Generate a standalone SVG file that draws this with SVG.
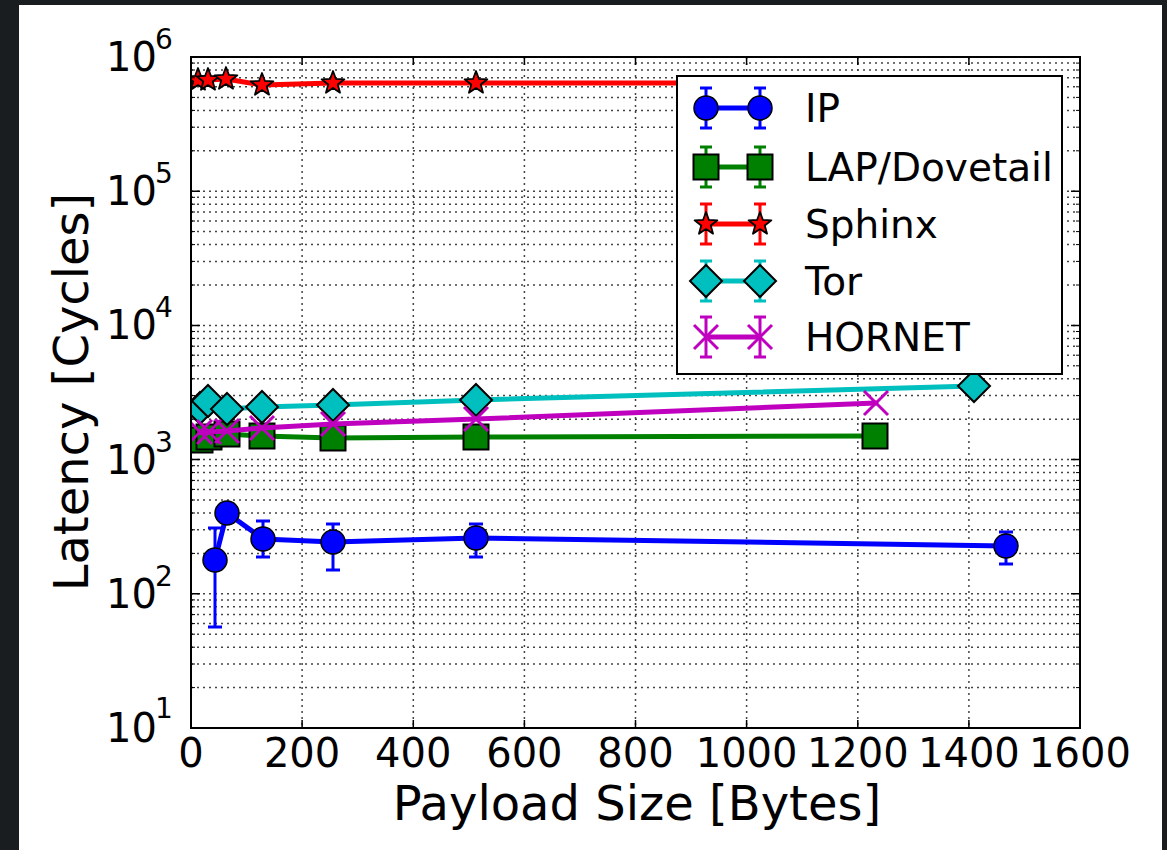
<svg xmlns="http://www.w3.org/2000/svg" xmlns:xlink="http://www.w3.org/1999/xlink" width="1167" height="850" viewBox="0 0 1167 850">
<style>
text{font-family:"DejaVu Sans","Liberation Sans",sans-serif;fill:#000}
.tick{font-size:40px}
.sup{font-size:28px}
.lbl{font-size:48px}
.leg{font-size:39px}
.grid line{stroke:#444;stroke-width:1.5;stroke-dasharray:2,4}
.ax line{stroke:#000;stroke-width:1.5}
.ser{fill:none;stroke-width:5;stroke-linejoin:round;stroke-linecap:round}
.eb{stroke-width:3;fill:none}
</style>
<defs>
<clipPath id="pc"><rect x="191" y="57" width="889" height="671"/></clipPath>
<circle id="mc" r="12" fill="#0000ff" stroke="#000" stroke-width="1.5"/>
<rect id="ms" x="-12.5" y="-12.5" width="25" height="25" fill="#008000" stroke="#000" stroke-width="2"/>
<path id="mst" d="M0,-12 L2.95,-4.06 L11.41,-3.71 L4.77,1.55 L7.05,9.71 L0,5.02 L-7.05,9.71 L-4.77,1.55 L-11.41,-3.71 L-2.95,-4.06 Z" fill="#ff0000" stroke="#000" stroke-width="1.8" stroke-linejoin="round"/>
<path id="md" d="M0,-16 L16,0 L0,16 L-16,0 Z" fill="#00bfbf" stroke="#000" stroke-width="2"/>
<path id="mx" d="M-12,-12 L12,12 M-12,12 L12,-12" stroke="#bf00bf" stroke-width="3" fill="none"/>
</defs>
<rect x="0" y="0" width="1167" height="850" fill="#1a1d20"/>
<rect x="19" y="5" width="1143" height="845" fill="#ffffff"/>

<g id="grid" class="grid">
<line x1="302.1" y1="57" x2="302.1" y2="728"/>
<line x1="413.3" y1="57" x2="413.3" y2="728"/>
<line x1="524.4" y1="57" x2="524.4" y2="728"/>
<line x1="635.5" y1="57" x2="635.5" y2="728"/>
<line x1="746.6" y1="57" x2="746.6" y2="728"/>
<line x1="857.8" y1="57" x2="857.8" y2="728"/>
<line x1="968.9" y1="57" x2="968.9" y2="728"/>
<line x1="191" y1="593.8" x2="1080" y2="593.8"/>
<line x1="191" y1="459.6" x2="1080" y2="459.6"/>
<line x1="191" y1="325.4" x2="1080" y2="325.4"/>
<line x1="191" y1="191.2" x2="1080" y2="191.2"/>
<line x1="191" y1="687.6" x2="1080" y2="687.6"/><line x1="191" y1="664" x2="1080" y2="664"/><line x1="191" y1="647.2" x2="1080" y2="647.2"/><line x1="191" y1="634.2" x2="1080" y2="634.2"/><line x1="191" y1="623.6" x2="1080" y2="623.6"/><line x1="191" y1="614.6" x2="1080" y2="614.6"/><line x1="191" y1="606.8" x2="1080" y2="606.8"/><line x1="191" y1="599.9" x2="1080" y2="599.9"/>
<line x1="191" y1="553.4" x2="1080" y2="553.4"/><line x1="191" y1="529.8" x2="1080" y2="529.8"/><line x1="191" y1="513" x2="1080" y2="513"/><line x1="191" y1="500" x2="1080" y2="500"/><line x1="191" y1="489.4" x2="1080" y2="489.4"/><line x1="191" y1="480.4" x2="1080" y2="480.4"/><line x1="191" y1="472.6" x2="1080" y2="472.6"/><line x1="191" y1="465.7" x2="1080" y2="465.7"/>
<line x1="191" y1="419.2" x2="1080" y2="419.2"/><line x1="191" y1="395.6" x2="1080" y2="395.6"/><line x1="191" y1="378.8" x2="1080" y2="378.8"/><line x1="191" y1="365.8" x2="1080" y2="365.8"/><line x1="191" y1="355.2" x2="1080" y2="355.2"/><line x1="191" y1="346.2" x2="1080" y2="346.2"/><line x1="191" y1="338.4" x2="1080" y2="338.4"/><line x1="191" y1="331.5" x2="1080" y2="331.5"/>
<line x1="191" y1="285" x2="1080" y2="285"/><line x1="191" y1="261.4" x2="1080" y2="261.4"/><line x1="191" y1="244.6" x2="1080" y2="244.6"/><line x1="191" y1="231.6" x2="1080" y2="231.6"/><line x1="191" y1="221" x2="1080" y2="221"/><line x1="191" y1="212" x2="1080" y2="212"/><line x1="191" y1="204.2" x2="1080" y2="204.2"/><line x1="191" y1="197.3" x2="1080" y2="197.3"/>
<line x1="191" y1="150.8" x2="1080" y2="150.8"/><line x1="191" y1="127.2" x2="1080" y2="127.2"/><line x1="191" y1="110.4" x2="1080" y2="110.4"/><line x1="191" y1="97.4" x2="1080" y2="97.4"/><line x1="191" y1="86.8" x2="1080" y2="86.8"/><line x1="191" y1="77.8" x2="1080" y2="77.8"/><line x1="191" y1="70" x2="1080" y2="70"/><line x1="191" y1="63.1" x2="1080" y2="63.1"/>
</g>

<g id="data" clip-path="url(#pc)">
<g id="series-ip">
<g class="eb" stroke="#0000ff">
<path d="M215,528 V627 M208,528 H222 M208,627 H222"/>
<path d="M263,521 V557 M256,521 H270 M256,557 H270"/>
<path d="M333,524 V570 M326,524 H340 M326,570 H340"/>
<path d="M476,524 V557 M469,524 H483 M469,557 H483"/>
<path d="M1006,532 V564 M999,532 H1013 M999,564 H1013"/>
</g>
<polyline class="ser" stroke="#0000ff" points="215,560 227,513 263,539 333,542 476,538 1006,546"/>
<use xlink:href="#mc" x="215" y="560"/><use xlink:href="#mc" x="227" y="513"/><use xlink:href="#mc" x="263" y="539"/><use xlink:href="#mc" x="333" y="542"/><use xlink:href="#mc" x="476" y="538"/><use xlink:href="#mc" x="1006" y="546"/>
</g>
<g id="series-lap">
<path class="eb" stroke="#008000" d="M200,430 V449 M194,449 H206"/>
<polyline class="ser" stroke="#008000" points="200,440 209,437 227,434 262,436 333,438 476,437 875,436"/>
<use xlink:href="#ms" x="200" y="440"/><use xlink:href="#ms" x="209" y="437"/><use xlink:href="#ms" x="227" y="434"/><use xlink:href="#ms" x="262" y="436"/><use xlink:href="#ms" x="333" y="438"/><use xlink:href="#ms" x="476" y="437"/><use xlink:href="#ms" x="875" y="436"/>
</g>
<g id="series-sphinx">
<polyline class="ser" stroke="#ff0000" stroke-width="6" points="198,80 208,80 226,79 262,85 333,83 476,83 860,83"/>
<use xlink:href="#mst" x="198" y="80"/><use xlink:href="#mst" x="208" y="80"/><use xlink:href="#mst" x="226" y="79"/><use xlink:href="#mst" x="262" y="85"/><use xlink:href="#mst" x="333" y="83"/><use xlink:href="#mst" x="476" y="83"/>
</g>
<g id="series-tor">
<polyline class="ser" stroke="#00bfbf" points="200,408 208,401 227,409 262,407 333,405 476,400 974,386"/>
<use xlink:href="#md" x="200" y="408"/><use xlink:href="#md" x="208" y="401"/><use xlink:href="#md" x="227" y="409"/><use xlink:href="#md" x="262" y="407"/><use xlink:href="#md" x="333" y="405"/><use xlink:href="#md" x="476" y="400"/><use xlink:href="#md" x="974" y="386"/>
</g>
<g id="series-hornet">
<polyline class="ser" stroke="#bf00bf" points="200,432 209,432 227,431 262,428 333,424 476,419 876,403"/>
<use xlink:href="#mx" x="200" y="432"/><use xlink:href="#mx" x="209" y="432"/><use xlink:href="#mx" x="227" y="431"/><use xlink:href="#mx" x="262" y="428"/><use xlink:href="#mx" x="333" y="424"/><use xlink:href="#mx" x="476" y="419"/><use xlink:href="#mx" x="876" y="403"/>
</g>
</g>

<g id="axes" class="ax">
<rect x="191" y="57" width="889" height="671" fill="none" stroke="#000" stroke-width="2"/>
<path stroke="#000" stroke-width="1.5" d="M302.1,728 v-8 M413.3,728 v-8 M524.4,728 v-8 M635.5,728 v-8 M746.6,728 v-8 M857.8,728 v-8 M968.9,728 v-8 M302.1,57 v8 M413.3,57 v8 M524.4,57 v8 M635.5,57 v8 M746.6,57 v8 M857.8,57 v8 M968.9,57 v8 M191,593.8 h9 M191,459.6 h9 M191,325.4 h9 M191,191.2 h9 M1080,593.8 h-9 M1080,459.6 h-9 M1080,325.4 h-9 M1080,191.2 h-9"/>
<path stroke="#000" stroke-width="1" d="M191,687.6h4M191,664h4M191,647.2h4M191,634.2h4M191,623.6h4M191,614.6h4M191,606.8h4M191,599.9h4M191,553.4h4M191,529.8h4M191,513h4M191,500h4M191,489.4h4M191,480.4h4M191,472.6h4M191,465.7h4M191,419.2h4M191,395.6h4M191,378.8h4M191,365.8h4M191,355.2h4M191,346.2h4M191,338.4h4M191,331.5h4M191,285h4M191,261.4h4M191,244.6h4M191,231.6h4M191,221h4M191,212h4M191,204.2h4M191,197.3h4M191,150.8h4M191,127.2h4M191,110.4h4M191,97.4h4M191,86.8h4M191,77.8h4M191,70h4M191,63.1h4 M1080,687.6h-4M1080,664h-4M1080,647.2h-4M1080,634.2h-4M1080,623.6h-4M1080,614.6h-4M1080,606.8h-4M1080,599.9h-4M1080,553.4h-4M1080,529.8h-4M1080,513h-4M1080,500h-4M1080,489.4h-4M1080,480.4h-4M1080,472.6h-4M1080,465.7h-4M1080,419.2h-4M1080,395.6h-4M1080,378.8h-4M1080,365.8h-4M1080,355.2h-4M1080,346.2h-4M1080,338.4h-4M1080,331.5h-4M1080,285h-4M1080,261.4h-4M1080,244.6h-4M1080,231.6h-4M1080,221h-4M1080,212h-4M1080,204.2h-4M1080,197.3h-4M1080,150.8h-4M1080,127.2h-4M1080,110.4h-4M1080,97.4h-4M1080,86.8h-4M1080,77.8h-4M1080,70h-4M1080,63.1h-4"/>
</g>

<g id="xticklabels" class="tick" text-anchor="middle">
<text x="191" y="767">0</text>
<text x="302.1" y="767">200</text>
<text x="413.3" y="767">400</text>
<text x="524.4" y="767">600</text>
<text x="635.5" y="767">800</text>
<text x="746.6" y="767">1000</text>
<text x="857.8" y="767">1200</text>
<text x="968.9" y="767">1400</text>
<text x="1080" y="767">1600</text>
</g>
<g id="yticklabels">
<text class="tick" x="157" y="71" text-anchor="end">10</text><text class="sup" x="155" y="49">6</text>
<text class="tick" x="157" y="205" text-anchor="end">10</text><text class="sup" x="155" y="183">5</text>
<text class="tick" x="157" y="339.4" text-anchor="end">10</text><text class="sup" x="155" y="317.4">4</text>
<text class="tick" x="157" y="473.6" text-anchor="end">10</text><text class="sup" x="155" y="451.6">3</text>
<text class="tick" x="157" y="607.8" text-anchor="end">10</text><text class="sup" x="155" y="585.8">2</text>
<text class="tick" x="157" y="742" text-anchor="end">10</text><text class="sup" x="155" y="718">1</text>
</g>
<text id="xlabel" class="lbl" x="637" y="820" text-anchor="middle">Payload Size [Bytes]</text>
<text id="ylabel" class="lbl" text-anchor="middle" transform="translate(88,392) rotate(-90)">Latency [Cycles]</text>

<g id="legend">
<rect x="677" y="76" width="385" height="298" fill="#ffffff" stroke="#000" stroke-width="2"/>
<g id="leg-ip">
<path class="eb" stroke="#0000ff" d="M706,88V128M760,88V128M700,88H712M700,128H712M754,88H766M754,128H766"/>
<line x1="706" y1="108" x2="760" y2="108" stroke="#0000ff" stroke-width="5"/>
<use xlink:href="#mc" x="706" y="108"/><use xlink:href="#mc" x="760" y="108"/>
<text class="leg" x="805" y="122">IP</text>
</g>
<g id="leg-lap">
<path class="eb" stroke="#008000" d="M706,147V187M760,147V187M700,147H712M700,187H712M754,147H766M754,187H766"/>
<line x1="706" y1="167" x2="760" y2="167" stroke="#008000" stroke-width="5"/>
<use xlink:href="#ms" x="706" y="167"/><use xlink:href="#ms" x="760" y="167"/>
<text class="leg" x="805" y="181">LAP/Dovetail</text>
</g>
<g id="leg-sphinx">
<path class="eb" stroke="#ff0000" d="M706,204V244M760,204V244M700,204H712M700,244H712M754,204H766M754,244H766"/>
<line x1="706" y1="224" x2="760" y2="224" stroke="#ff0000" stroke-width="5"/>
<use xlink:href="#mst" x="706" y="224"/><use xlink:href="#mst" x="760" y="224"/>
<text class="leg" x="805" y="238">Sphinx</text>
</g>
<g id="leg-tor">
<path class="eb" stroke="#00bfbf" d="M706,261V301M760,261V301M700,261H712M700,301H712M754,261H766M754,301H766"/>
<line x1="706" y1="281" x2="760" y2="281" stroke="#00bfbf" stroke-width="5"/>
<use xlink:href="#md" x="706" y="281"/><use xlink:href="#md" x="760" y="281"/>
<text class="leg" x="805" y="295">Tor</text>
</g>
<g id="leg-hornet">
<path class="eb" stroke="#bf00bf" d="M706,317V357M760,317V357M700,317H712M700,357H712M754,317H766M754,357H766"/>
<line x1="706" y1="337" x2="760" y2="337" stroke="#bf00bf" stroke-width="5"/>
<use xlink:href="#mx" x="706" y="337"/><use xlink:href="#mx" x="760" y="337"/>
<text class="leg" x="805" y="351">HORNET</text>
</g>
</g>
</svg>
